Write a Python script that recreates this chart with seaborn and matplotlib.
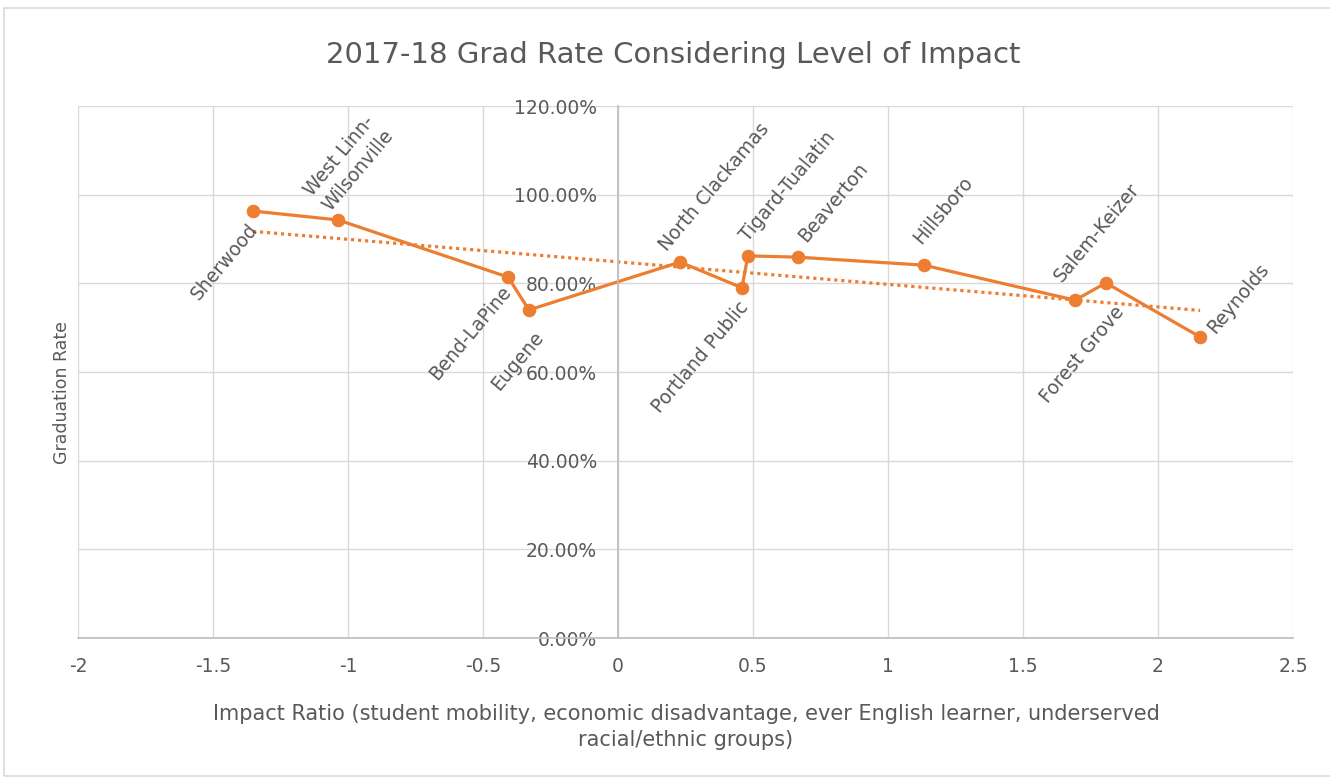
import matplotlib
matplotlib.use("Agg")
import matplotlib.pyplot as plt
import matplotlib.ticker as mticker
from matplotlib.patches import Rectangle
import seaborn as sns
import pandas as pd

# ---- data ----
districts = ["Sherwood", "West Linn-\nWilsonville", "Bend-LaPine", "Eugene",
             "North Clackamas", "Portland Public", "Tigard-Tualatin", "Beaverton",
             "Hillsboro", "Salem-Keizer", "Forest Grove", "Reynolds"]
impact_ratio = [-1.352, -1.037, -0.407, -0.330, 0.230, 0.459, 0.481, 0.667,
                1.133, 1.693, 1.807, 2.156]
grad_rate = [0.963, 0.943, 0.814, 0.740, 0.848, 0.790, 0.862, 0.859,
             0.841, 0.762, 0.801, 0.679]
x_ticks = [-2, -1.5, -1, -0.5, 0, 0.5, 1, 1.5, 2, 2.5]
x_tick_labels = ["-2", "-1.5", "-1", "-0.5", "0", "0.5", "1", "1.5", "2", "2.5"]
y_ticks = [0, 0.2, 0.4, 0.6, 0.8, 1.0, 1.2]

# label placement: (offset px, ha, va)
label_pos = {
    "Sherwood": ((9, -9), "right", "top"),
    "West Linn-\nWilsonville": ((-38, 5), "left", "bottom"),
    "Bend-LaPine": ((7, -5), "right", "top"),
    "Eugene": ((19, -18), "right", "top"),
    "North Clackamas": ((-25, 7), "left", "bottom"),
    "Portland Public": ((10, -10), "right", "top"),
    "Tigard-Tualatin": ((-11, 11), "left", "bottom"),
    "Beaverton": ((-3, 12), "left", "bottom"),
    "Hillsboro": ((-14, 18), "left", "bottom"),
    "Salem-Keizer": ((-25, 15), "left", "bottom"),
    "Forest Grove": ((22, -20), "right", "top"),
    "Reynolds": ((3, 0), "left", "bottom"),
}

df = pd.DataFrame({"district": districts, "impact": impact_ratio, "rate": grad_rate})

ORANGE = "#ED7D31"
TXT = "#595959"
GRID = "#d9d9d9"

sns.set_theme(style="white")
plt.rcParams["font.family"] = ["DejaVu Sans"]

fig = plt.figure(figsize=(13.3, 7.84), dpi=100)
ax = fig.add_axes([78 / 1330, 1 - 638 / 784, (1293 - 78) / 1330, (638 - 106) / 784])

# chart-area border
fig.patches.append(Rectangle((4 / 1330, 8 / 784), 1.0, 1 - 16 / 784,
                             transform=fig.transFigure, fill=False,
                             edgecolor=GRID, linewidth=1.2))

sns.regplot(data=df, x="impact", y="rate", ax=ax, scatter=False, ci=None,
            line_kws=dict(color=ORANGE, linestyle=(0, (1, 1.2)), linewidth=2.3))
sns.lineplot(data=df, x="impact", y="rate", ax=ax, color=ORANGE, linewidth=2.3,
             marker="o", markersize=9, markeredgecolor=ORANGE, sort=True)

for name, xv, yv in zip(districts, impact_ratio, grad_rate):
    (dx, dy), ha, va = label_pos[name]
    ax.annotate(name, (xv, yv), xytext=(dx, dy), textcoords="offset pixels",
                rotation=50, ha=ha, va=va, fontsize=13.5, color=TXT,
                multialignment="left", linespacing=1.35)

ax.set_xlim(-2, 2.5)
ax.set_ylim(0, 1.2)
ax.set_xticks(x_ticks)
ax.set_xticklabels(x_tick_labels)
ax.set_yticks(y_ticks)
ax.yaxis.set_major_formatter(mticker.FuncFormatter(lambda v, p: f"{v*100:.2f}%"))
ax.grid(True, color=GRID, linewidth=1.0)
ax.set_axisbelow(True)

for s in ["top", "right"]:
    ax.spines[s].set_visible(False)
ax.spines["left"].set_position(("data", 0))
ax.spines["left"].set_color("#bfbfbf")
ax.spines["bottom"].set_color("#bfbfbf")
ax.tick_params(axis="both", length=0, labelcolor=TXT, labelsize=13.5)
ax.tick_params(axis="y", pad=15)
ax.tick_params(axis="x", pad=14)

ax.set_xlabel("")
ax.set_ylabel("")
fig.text(686 / 1330, 1 - 727 / 784,
         "Impact Ratio (student mobility, economic disadvantage, ever English learner, underserved\nracial/ethnic groups)",
         ha="center", va="center", fontsize=15, color=TXT, linespacing=1.4)
fig.text(62 / 1330, 1 - 392 / 784, "Graduation Rate", rotation=90,
         ha="center", va="center", fontsize=12.5, color=TXT)
fig.text(673 / 1330, 1 - 55 / 784, "2017-18 Grad Rate Considering Level of Impact",
         ha="center", va="center", fontsize=21, color=TXT)

fig.savefig("out.png", dpi=100, facecolor="white")
